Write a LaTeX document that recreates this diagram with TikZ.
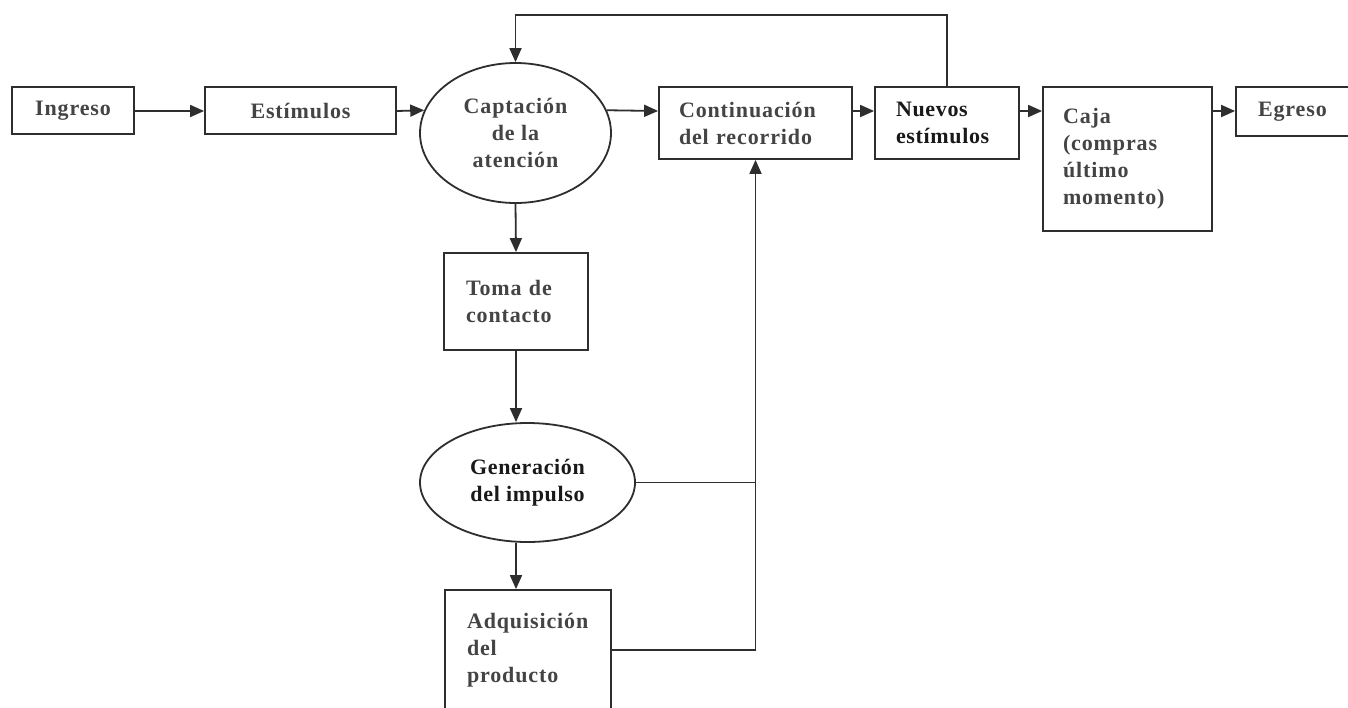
\documentclass[tikz,border=0pt]{standalone}
\usepackage{fontspec}
\setmainfont{Liberation Serif}
\usetikzlibrary{shapes.geometric,arrows.meta}
\definecolor{lnc}{HTML}{2E2E2E}
\definecolor{tx}{HTML}{444444}
\begin{document}
\begin{tikzpicture}[x=0.5pt,y=-0.5pt,
  line width=0.9pt,
  every node/.style={font=\fontsize{11}{13.5}\selectfont\bfseries\addfontfeatures{LetterSpace=4},text=tx},
  bold/.style={font=\fontsize{11}{13.5}\selectfont\bfseries\addfontfeatures{LetterSpace=3},text=black!90},
  bx/.style={draw=lnc,rectangle,inner ysep=0pt},
  lbx/.style n args={3}{bx,align=left,text width=#1pt-2*#3pt,inner xsep=#3pt,minimum height=#2pt,anchor=center},
  cbx/.style n args={2}{bx,align=center,minimum width=#1pt,minimum height=#2pt,inner xsep=0pt},
  ell/.style n args={2}{draw=lnc,ellipse,inner sep=0pt,minimum width=#1pt,minimum height=#2pt,align=center},
  arr/.style={draw=lnc,-{Triangle[length=7pt,width=6pt]}},
  plain/.style={draw=lnc}]
\useasboundingbox (0,0) rectangle (1348,707);
\clip (0,0) rectangle (1348,707);
\fill[white] (0,0) rectangle (1348,707);

\node[cbx={61}{23.5}] (ing) at (73,110.5) {Ingreso};
\node[cbx={95.5}{23.5}] (est) at (300.5,110.5) {Estímulos};
\node[ell={95.5}{70}] (capt) at (515.5,133) {Captación\\de la\\atención};
\node[lbx={96.5}{36}{10}] (cont) at (755.5,123) {Continuación\\del recorrido};
\node[lbx={72}{36}{10.5},bold] (nue) at (947,123) {Nuevos\\estímulos};
\node[lbx={84.5}{72}{10}] (caja) at (1127.5,159) {Caja\\(compras\\último\\momento)};
\node[lbx={62}{24.5}{11}] (egr) at (1298,111.5) {Egreso};
\node[lbx={72}{48.5}{11}] (toma) at (516,301.5) {Toma de\\contacto};
\node[ell={107.5}{59.5},bold] (gen) at (527.5,482.5) {Generación\\del impulso};
\node[lbx={83}{60}{11}] (adq) at (528,650) {Adquisición\\del\\producto};

\coordinate (row) at (0,111);
\coordinate (col) at (516,0);
\coordinate (top) at (0,15);

\draw[arr] (ing.east |- row) -- (est.west |- row);
\draw[arr] (est.east |- row) -- (capt.166);
\draw[arr] (capt.14) -- (cont.west |- row);
\draw[arr] (cont.east |- row) -- (nue.west |- row);
\draw[arr] (nue.east |- row) -- (caja.west |- row);
\draw[arr] (caja.east |- row) -- (egr.west |- row);
\draw[arr] (nue.north) -- (nue.north |- top) -- (capt.north |- top) -- (capt.north);
\draw[arr] (capt.south) -- (toma.north);
\draw[arr] (toma.south) -- (col |- gen.north);
\draw[arr] (col |- gen.south) -- (col |- adq.north);
\draw[plain] (gen.east) -- (gen.east -| cont.south);
\draw[arr] (adq.east) -- (adq.east -| cont.south) -- (cont.south);
\end{tikzpicture}
\end{document}
